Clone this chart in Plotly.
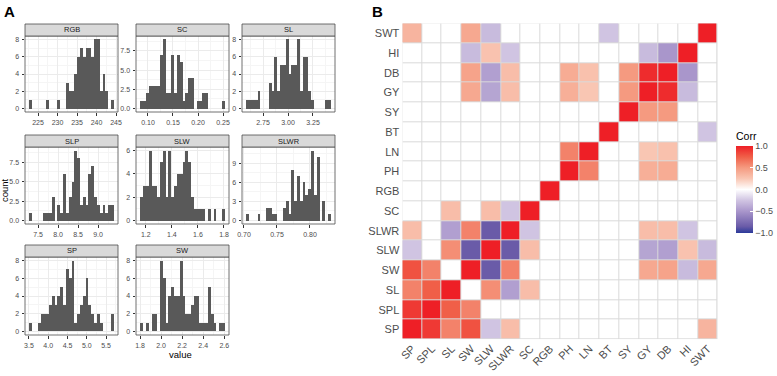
import plotly.graph_objects as go

W, H = 777, 376

# ---------------- Panel A data: histogram counts (30 bins each) ----------------
facet_names = ["RGB", "SC", "SL", "SLP", "SLW", "SLWR", "SP", "SW"]
rgb_counts  = [1,0,0,0,0,0,1,0,0,0,1,0,0,3,2,2,4,6,7,6,7,7,6,8,8,2,4,2,0,1]
sc_counts   = [1,1,2,3,3,3,3,7,9,2,2,7,2,7,6,1,2,4,4,0,1,1,2,2,0,0,0,0,0,1]
sl_counts   = [1,1,1,1,2,0,0,0,3,2,6,2,5,5,8,4,5,5,8,2,6,6,2,1,0,0,0,0,1,1]
slp_counts  = [1,0,0,0,0,1,1,1,3,0,2,1,6,1,3,5,9,8,2,3,2,6,7,3,2,1,2,1,2,2]
slw_counts  = [2,3,3,6,3,3,2,5,6,2,6,2,3,4,4,5,6,5,2,1,1,1,1,0,1,0,1,0,0,1]
slwr_counts = [1,0,0,0,1,0,0,2,2,1,1,0,0,2,3,1,8,3,7,3,6,4,5,11,4,10,0,3,0,1]
sp_counts   = [1,0,0,1,2,2,2,3,4,3,4,5,3,7,6,8,1,2,3,4,6,3,2,1,2,1,0,0,0,2]
sw_counts   = [1,0,1,0,2,2,0,8,6,1,4,5,4,4,8,4,2,2,3,4,4,1,1,1,5,2,1,0,1,1]
all_counts = [rgb_counts, sc_counts, sl_counts, slp_counts,
              slw_counts, slwr_counts, sp_counts, sw_counts]
# range of the binned data (left edge of first bin, right edge of last bin)
bin_lo = [222.75, 0.0845, 2.582, 7.28, 1.157, 0.7034, 3.507, 1.802]
bin_hi = [244.42, 0.2535, 3.428, 9.394, 1.806, 0.8315, 5.70, 2.605]
# x tick settings
x_tick0 = [225, 0.10, 2.75, 7.5, 1.2, 0.70, 3.5, 1.8]
x_dtick = [5, 0.05, 0.25, 0.5, 0.2, 0.05, 0.5, 0.2]
x_fmt   = ["d", ".2f", ".2f", ".1f", ".1f", ".2f", ".1f", ".1f"]
y_dtick = [2, 2.5, 2, 2.5, 2, 3, 2, 2]
y_fmt   = ["d", ".1f", "d", ".1f", "d", "d", "d", "d"]

# ---------------- Panel B data: correlation matrix ----------------
traits = ["SP", "SPL", "SL", "SW", "SLW", "SLWR", "SC", "RGB",
          "PH", "LN", "BT", "SY", "GY", "DB", "HI", "SWT"]
corr_pairs = [
    ("SP", "SPL", 0.9), ("SP", "SL", 0.6), ("SP", "SW", 0.8), ("SP", "SLW", -0.25),
    ("SP", "SLWR", 0.3), ("SP", "SWT", 0.35),
    ("SPL", "SL", 0.75), ("SPL", "SW", 0.6),
    ("SL", "SLW", 0.55), ("SL", "SLWR", -0.45), ("SL", "SC", 0.3),
    ("SW", "SLW", -0.85), ("SW", "SLWR", 0.6), ("SW", "GY", 0.42), ("SW", "DB", 0.45),
    ("SW", "HI", -0.3), ("SW", "SWT", 0.42),
    ("SLW", "SLWR", -0.85), ("SLW", "SC", 0.3), ("SLW", "GY", -0.42), ("SLW", "DB", -0.45),
    ("SLW", "HI", 0.27), ("SLW", "SWT", -0.3),
    ("SLWR", "SC", -0.25), ("SLWR", "GY", 0.3), ("SLWR", "DB", 0.3), ("SLWR", "HI", -0.25),
    ("PH", "LN", 0.6), ("PH", "GY", 0.38), ("PH", "DB", 0.4),
    ("LN", "GY", 0.25), ("LN", "DB", 0.28),
    ("BT", "SWT", -0.25),
    ("SY", "GY", 0.5), ("SY", "DB", 0.5),
    ("GY", "DB", 0.95), ("GY", "HI", -0.3),
    ("DB", "HI", -0.5),
]

# ---------------- helpers ----------------
def fx(p):
    return p / W

def fy(p):
    return 1 - p / H

FONT = "Liberation Sans, Arial, sans-serif"
fig = go.Figure()
shapes = []
annotations = []
layout_axes = {}

col_x = [(25, 118), (136, 229), (242, 335)]
row_y = [(24, 36, 112), (135, 147, 224), (245, 257, 335)]

axis_font = dict(family=FONT, size=7, color="#4D4D4D")
for i, name in enumerate(facet_names):
    r, c = divmod(i, 3)
    x0, x1 = col_x[c]
    s_top, p_top, p_bot = row_y[r]
    counts = all_counts[i]
    lo, hi = bin_lo[i], bin_hi[i]
    n = len(counts)
    bw = (hi - lo) / n
    centers = [lo + (k + 0.5) * bw for k in range(n)]
    pad = 0.05 * (hi - lo)
    ymax = max(counts)
    k = i + 1
    fig.add_trace(go.Bar(x=centers, y=counts, width=bw, marker=dict(color="#595959", line=dict(width=0)),
                         xaxis=f"x{k}", yaxis=f"y{k}", showlegend=False, hoverinfo="skip"))
    xa = dict(domain=[fx(x0), fx(x1)], anchor=f"y{k}", range=[lo - pad, hi + pad], automargin=False,
              tickmode="linear", tick0=x_tick0[i], dtick=x_dtick[i], tickformat=x_fmt[i],
              ticks="outside", ticklen=2.5, tickcolor="#333333", tickwidth=0.8,
              showgrid=True, gridcolor="#EBEBEB", gridwidth=0.8, zeroline=False, showline=False,
              tickfont=axis_font, ticklabelstandoff=1,
              minor=dict(tick0=x_tick0[i], dtick=x_dtick[i] / 2, showgrid=True,
                         gridcolor="#F5F5F5", gridwidth=0.5, ticks=""))
    ya = dict(domain=[fy(p_bot), fy(p_top)], anchor=f"x{k}", range=[-0.05 * ymax, 1.05 * ymax],
              automargin=False,
              tickmode="linear", tick0=0, dtick=y_dtick[i], tickformat=y_fmt[i],
              ticks="outside", ticklen=2.5, tickcolor="#333333", tickwidth=0.8,
              showgrid=True, gridcolor="#EBEBEB", gridwidth=0.8, zeroline=False, showline=False,
              tickfont=axis_font, ticklabelstandoff=1,
              minor=dict(tick0=0, dtick=y_dtick[i] / 2, showgrid=True,
                         gridcolor="#F5F5F5", gridwidth=0.5, ticks=""))
    layout_axes["xaxis" if k == 1 else f"xaxis{k}"] = xa
    layout_axes["yaxis" if k == 1 else f"yaxis{k}"] = ya
    # panel border
    shapes.append(dict(type="rect", xref="paper", yref="paper", x0=fx(x0), x1=fx(x1),
                       y0=fy(p_bot), y1=fy(p_top), line=dict(color="#4D4D4D", width=0.8),
                       fillcolor="rgba(0,0,0,0)", layer="above"))
    # strip
    shapes.append(dict(type="rect", xref="paper", yref="paper", x0=fx(x0), x1=fx(x1),
                       y0=fy(p_top), y1=fy(s_top), line=dict(color="#4D4D4D", width=0.8),
                       fillcolor="#D9D9D9", layer="above"))
    annotations.append(dict(text=name, xref="paper", yref="paper", x=fx((x0 + x1) / 2),
                            y=fy((s_top + p_top) / 2), showarrow=False, xanchor="center", yanchor="middle",
                            font=dict(family=FONT, size=7.5, color="#1A1A1A")))

# axis titles for panel A
annotations.append(dict(text="value", xref="paper", yref="paper", x=fx(180), y=fy(354), showarrow=False,
                        xanchor="center", yanchor="middle", font=dict(family=FONT, size=9.5, color="#000000")))
annotations.append(dict(text="count", xref="paper", yref="paper", x=fx(4), y=fy(190), showarrow=False,
                        textangle=-90, xanchor="center", yanchor="middle",
                        font=dict(family=FONT, size=9.5, color="#000000")))
# panel letters
annotations.append(dict(text="<b>A</b>", xref="paper", yref="paper", x=fx(2), y=fy(12), showarrow=False,
                        xanchor="left", yanchor="middle", font=dict(family=FONT, size=15, color="#000000")))
annotations.append(dict(text="<b>B</b>", xref="paper", yref="paper", x=fx(370), y=fy(12), showarrow=False,
                        xanchor="left", yanchor="middle", font=dict(family=FONT, size=15, color="#000000")))

# ---------------- heatmap ----------------
idx = {t: j for j, t in enumerate(traits)}
z = [[0.0] * len(traits) for _ in traits]
for j in range(len(traits)):
    z[j][j] = 1.0
for a, b, v in corr_pairs:
    z[idx[a]][idx[b]] = v
    z[idx[b]][idx[a]] = v

colorscale = [
    [0.0, "#2B3A9A"], [0.075, "#6A5BA8"], [0.25, "#A996CB"], [0.375, "#D0C4E2"],
    [0.5, "#FFFFFF"], [0.625, "#F9C6B3"], [0.75, "#F59A80"], [0.875, "#F05F48"], [1.0, "#EE1F26"],
]
fig.add_trace(go.Heatmap(
    z=z, x=traits, y=traits, zmin=-1, zmax=1, colorscale=colorscale, xgap=1, ygap=1,
    xaxis="x9", yaxis="y9", hoverinfo="skip",
    colorbar=dict(
        title=dict(text="Corr", side="top", font=dict(family=FONT, size=10.5, color="#000000")),
        thickness=17, thicknessmode="pixels", len=104, lenmode="pixels",
        x=fx(736), xanchor="left", y=fy(233), yanchor="bottom", xpad=0, ypad=0,
        outlinewidth=0, tickmode="array", tickvals=[-1, -0.5, 0, 0.5, 1],
        ticktext=["\u22121.0", "\u22120.5", "0.0", "0.5", "1.0"],
        ticks="inside", tickcolor="white", ticklen=3,
        tickfont=dict(family=FONT, size=9, color="#4D4D4D")),
))
hm_font = dict(family=FONT, size=11, color="#4D4D4D")
layout_axes["xaxis9"] = dict(domain=[fx(402.3), fx(717.7)], anchor="y9", range=[-0.5, len(traits) - 0.5],
                             automargin=False, tickangle=-45, showgrid=False, zeroline=False, showline=False,
                             ticks="", tickfont=hm_font, ticklabelstandoff=0)
layout_axes["yaxis9"] = dict(domain=[fy(339.3), fy(23.3)], anchor="x9", range=[-0.5, len(traits) - 0.5],
                             automargin=False, showgrid=False, zeroline=False, showline=False,
                             ticks="", tickfont=hm_font, ticklabelstandoff=2)
shapes.append(dict(type="rect", xref="x9", yref="y9", x0=-0.5, x1=len(traits) - 0.5,
                   y0=-0.5, y1=len(traits) - 0.5, fillcolor="#DADADA", line=dict(width=0), layer="below"))

fig.update_layout(
    width=W, height=H, margin=dict(l=0, r=0, t=0, b=0, autoexpand=False),
    paper_bgcolor="white", plot_bgcolor="white",
    shapes=shapes, annotations=annotations, bargap=0,
    font=dict(family=FONT),
    **layout_axes,
)
fig.write_html("out.html", config={"displayModeBar": False},
               post_script="document.body.style.margin='0';document.body.style.overflow='hidden';")
